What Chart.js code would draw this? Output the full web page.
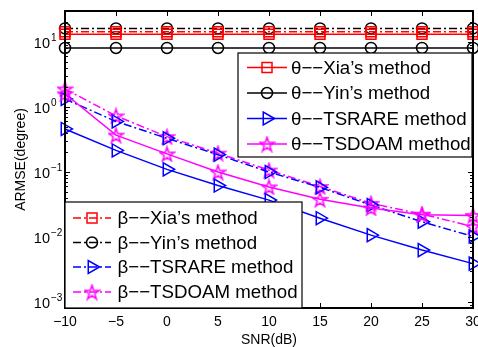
<!DOCTYPE html>
<html>
<head>
<meta charset="utf-8">
<script src="https://cdn.jsdelivr.net/npm/chart.js@4.4.0/dist/chart.umd.min.js"></script>
<style>
html, body { margin: 0; padding: 0; background: #fff; }
#wrap { width: 478px; height: 347px; }
</style>
</head>
<body>
<div id="wrap"><canvas id="chart" width="478" height="347"></canvas></div>
<script>
// SNR points (dB)
const snr = [-10, -5, 0, 5, 10, 15, 20, 25, 30];

// theta ARMSE (degree)
const thetaXia    = [13.2, 13.2, 13.2, 13.2, 13.2, 13.2, 13.2, 13.2, 13.2];
const thetaYin    = [8.1, 8.1, 8.1, 8.1, 8.1, 8.1, 8.1, 8.1, 8.1];
const thetaTSRARE = [0.46, 0.215, 0.11, 0.062, 0.037, 0.0195, 0.0107, 0.0063, 0.0039];
const thetaTSDOAM = [1.6, 0.37, 0.19, 0.1, 0.059, 0.038, 0.028, 0.022, 0.0215];

// beta ARMSE (degree)
const betaXia    = [14.4, 14.4, 14.4, 14.4, 14.4, 14.4, 14.4, 14.4, 14.4];
const betaYin    = [16.2, 16.2, 16.2, 16.2, 16.2, 16.2, 16.2, 16.2, 16.2];
const betaTSRARE = [1.33, 0.6, 0.33, 0.185, 0.1, 0.058, 0.031, 0.0172, 0.0102];
const betaTSDOAM = [1.9, 0.73, 0.35, 0.195, 0.107, 0.06, 0.033, 0.0225, 0.0145];

const thetaLabels = ['θ−−Xia’s method', 'θ−−Yin’s method', 'θ−−TSRARE method', 'θ−−TSDOAM method'];
const betaLabels  = ['β−−Xia’s method', 'β−−Yin’s method', 'β−−TSRARE method', 'β−−TSDOAM method'];

const yDecades = [-3, -2, -1, 0, 1];
const xTicks = [-10, -5, 0, 5, 10, 15, 20, 25, 30];

const FONT = '"Liberation Sans", Arial, sans-serif';
const RED = '#ff0000', BLACK = '#000000', BLUE = '#0000ff', MAGENTA = '#ff00ff';
const DASHDOT = [8, 3, 2, 3];

// hollow pentagram marker as an image
function makeStar(color) {
    const s = 17;
    const cv = document.createElement('canvas');
    cv.width = s; cv.height = s;
    const g = cv.getContext('2d');
    const cx = s / 2, cy = s / 2 + 0.8, R = 7.5, r = R * 0.382;
    g.beginPath();
    for (let i = 0; i < 10; i++) {
        const a = -Math.PI / 2 + i * Math.PI / 5;
        const rr = i % 2 ? r : R;
        g.lineTo(cx + rr * Math.cos(a), cy + rr * Math.sin(a));
    }
    g.closePath();
    g.strokeStyle = color;
    g.lineWidth = 1.5;
    g.stroke();
    return cv;
}
const starMagenta = makeStar(MAGENTA);

const markers = [
    { style: 'rect', radius: 7, rotation: 0 },
    { style: 'circle', radius: 5.5, rotation: 0 },
    { style: 'triangle', radius: 7.5, rotation: 90 },
    { style: starMagenta, radius: 8, rotation: 0 }
];
const colors = [RED, BLACK, BLUE, MAGENTA];

function series(label, values, idx, dashed) {
    const m = markers[idx];
    return {
        label: label,
        data: values.map((v, i) => ({ x: snr[i], y: v })),
        borderColor: colors[idx],
        borderWidth: 1.5,
        borderDash: dashed ? DASHDOT : [],
        pointStyle: m.style,
        pointRadius: m.radius,
        pointRotation: m.rotation,
        pointBorderColor: colors[idx],
        pointBackgroundColor: 'rgba(0,0,0,0)',
        pointBorderWidth: 1.5,
        tension: 0,
        clip: false
    };
}

// marker for the legend samples
function drawMarker(ctx, idx, x, y) {
    ctx.save();
    ctx.strokeStyle = colors[idx];
    ctx.lineWidth = 1.5;
    ctx.setLineDash([]);
    ctx.beginPath();
    if (idx === 0) {
        ctx.rect(x - 5, y - 5, 10, 10);
        ctx.stroke();
    } else if (idx === 1) {
        ctx.arc(x, y, 5.5, 0, Math.PI * 2);
        ctx.stroke();
    } else if (idx === 2) {
        const r = 7.5;
        ctx.moveTo(x + r, y);
        ctx.lineTo(x - r / 2, y - r * 0.866);
        ctx.lineTo(x - r / 2, y + r * 0.866);
        ctx.closePath();
        ctx.stroke();
    } else {
        ctx.drawImage(starMagenta, x - 8.5, y - 8.5);
    }
    ctx.restore();
}

function drawLegend(ctx, box, labels, dashed, lineX0, lineX1, textX, rows) {
    ctx.save();
    ctx.fillStyle = '#fff';
    ctx.fillRect(box.x, box.y, box.w, box.h);
    ctx.strokeStyle = '#000';
    ctx.lineWidth = 1.2;
    ctx.strokeRect(box.x, box.y, box.w, box.h);
    labels.forEach((txt, i) => {
        const y = rows[i];
        ctx.strokeStyle = colors[i];
        ctx.lineWidth = 1.5;
        ctx.setLineDash(dashed ? DASHDOT : []);
        ctx.beginPath();
        ctx.moveTo(lineX0, y);
        ctx.lineTo(lineX1, y);
        ctx.stroke();
        ctx.setLineDash([]);
        drawMarker(ctx, i, (lineX0 + lineX1) / 2, y);
        ctx.fillStyle = '#000';
        ctx.font = '18.7px ' + FONT;
        ctx.textAlign = 'left';
        ctx.textBaseline = 'middle';
        ctx.fillText(txt, textX, y + 1);
    });
    ctx.restore();
}

// axes box, inward ticks, tick labels and the two legends
const matlabAxes = {
    id: 'matlabAxes',
    afterDatasetsDraw(chart) {
        const ctx = chart.ctx;
        const a = chart.chartArea;
        const xs = chart.scales.x, ys = chart.scales.y;
        ctx.save();
        ctx.strokeStyle = '#000';
        ctx.lineWidth = 1;
        ctx.beginPath();
        xTicks.forEach(v => {
            const px = Math.round(xs.getPixelForValue(v)) + 0.5;
            ctx.moveTo(px, a.bottom); ctx.lineTo(px, a.bottom - 5);
            ctx.moveTo(px, a.top); ctx.lineTo(px, a.top + 5);
        });
        for (let e = -4; e <= 1; e++) {
            for (let k = 1; k <= 9; k++) {
                const v = k * Math.pow(10, e);
                if (v < ys.min || v > ys.max) continue;
                const py = Math.round(ys.getPixelForValue(v)) + 0.5;
                const len = k === 1 ? 5 : 3;
                ctx.moveTo(a.left, py); ctx.lineTo(a.left + len, py);
                ctx.moveTo(a.right, py); ctx.lineTo(a.right - len, py);
            }
        }
        ctx.stroke();
        ctx.lineWidth = 2;
        ctx.strokeRect(a.left, a.top, a.right - a.left, a.bottom - a.top);

        ctx.fillStyle = '#000';
        // x tick labels
        ctx.font = '14px ' + FONT;
        ctx.textAlign = 'center';
        ctx.textBaseline = 'middle';
        xTicks.forEach(v => {
            const px = xs.getPixelForValue(v);
            ctx.fillText(v < 0 ? '−' + Math.abs(v) : String(v), px, 322);
        });
        // y tick labels 10^n
        yDecades.forEach(e => {
            const py = ys.getPixelForValue(Math.pow(10, e));
            ctx.font = '14.5px ' + FONT;
            ctx.textAlign = 'right';
            ctx.textBaseline = 'middle';
            ctx.fillText('10', 50, py + 2);
            ctx.font = '10px ' + FONT;
            ctx.textAlign = 'left';
            ctx.fillText(e < 0 ? '−' + (-e) : String(e), 51, py - 4);
        });
        ctx.restore();

        drawLegend(ctx, { x: 238, y: 53, w: 234, h: 104 }, thetaLabels, false,
            247, 287, 291, [67.5, 93, 118.5, 144]);
        drawLegend(ctx, { x: 65, y: 202, w: 237, h: 106 }, betaLabels, true,
            73, 111, 117.5, [218, 242.5, 267, 292]);
    }
};

const chart = new Chart(document.getElementById('chart'), {
    type: 'line',
    data: {
        datasets: [
            series(thetaLabels[0], thetaXia, 0, false),
            series(thetaLabels[1], thetaYin, 1, false),
            series(thetaLabels[2], thetaTSRARE, 2, false),
            series(thetaLabels[3], thetaTSDOAM, 3, false),
            series(betaLabels[0], betaXia, 0, true),
            series(betaLabels[1], betaYin, 1, true),
            series(betaLabels[2], betaTSRARE, 2, true),
            series(betaLabels[3], betaTSDOAM, 3, true)
        ]
    },
    options: {
        responsive: false,
        animation: false,
        layout: { autoPadding: false, padding: { top: 11, right: 5, left: 0, bottom: 0 } },
        plugins: {
            legend: { display: false },
            tooltip: { enabled: false }
        },
        scales: {
            x: {
                type: 'linear',
                min: -10,
                max: 30,
                grid: { display: false, drawTicks: false },
                border: { display: false },
                ticks: { display: false, stepSize: 5 },
                title: {
                    display: true,
                    text: 'SNR(dB)',
                    color: '#000',
                    font: { size: 14, family: FONT },
                    padding: { top: 0, bottom: -2 }
                },
                afterFit: s => { s.height = 39; }
            },
            y: {
                type: 'logarithmic',
                min: 8.1e-4,
                max: 30,
                grid: { display: false, drawTicks: false },
                border: { display: false },
                ticks: { display: false },
                title: {
                    display: true,
                    text: 'ARMSE(degree)',
                    color: '#000',
                    font: { size: 14, family: FONT },
                    padding: { top: 13, bottom: 0 }
                },
                afterFit: s => { s.width = 65; }
            }
        }
    },
    plugins: [matlabAxes]
});
</script>
</body>
</html>
